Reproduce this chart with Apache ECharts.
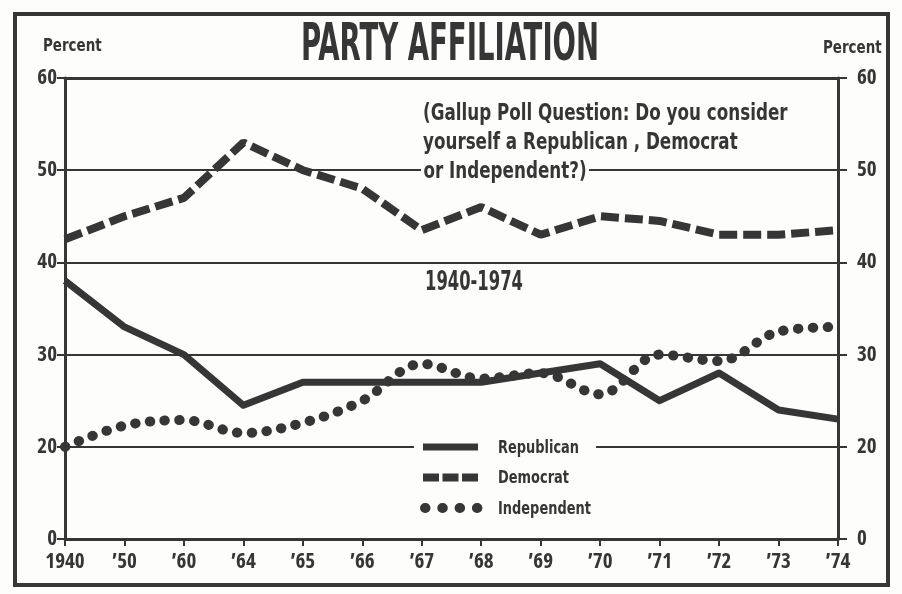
<!DOCTYPE html>
<html>
<head>
<meta charset="utf-8">
<script src="https://cdn.jsdelivr.net/npm/echarts@6/dist/echarts.min.js"></script>
<style>
html,body{margin:0;padding:0;background:#fdfdfb;}
#c{width:902px;height:594px;}
</style>
</head>
<body>
<div id="c"></div>
<script>
// ---- data ----
const categories = ['1940', '\u201950', '\u201960', '\u201964', '\u201965', '\u201966', '\u201967', '\u201968', '\u201969', '\u201970', '\u201971', '\u201972', '\u201973', '\u201974'];
const republican = [38, 33, 30, 24.5, 27, 27, 27, 27, 28, 29, 25, 28, 24, 23];
const democrat = [42.5, 45, 47, 53, 50, 48, 43.5, 46, 43, 45, 44.5, 43, 43, 43.5];
const independent = [20, 22.3, 22.9, 21.5, 22.6, 25, 29, 27.4, 28, 25.7, 30, 29.3, 32.5, 33];
// broken axis: bottom position is labelled 0
const yTickValues = [10, 20, 30, 40, 50, 60];
const yTickLabels = ['0', '20', '30', '40', '50', '60'];
const seriesNames = ['Republican', 'Democrat', 'Independent'];

const INK = '#363636';
const BG = '#fdfdfb';
const FONT = "'DejaVu Sans', sans-serif";
const AXFONT = "'Open Sans', 'DejaVu Sans', sans-serif";
const yFmt = v => { const i = yTickValues.indexOf(v); return i >= 0 ? yTickLabels[i] : ''; };

const chart = echarts.init(document.getElementById('c'));
const axTxt = {fontFamily: AXFONT, fontWeight: 'bold', fontStyle: 'condensed', color: INK, fontSize: 21};

function T(text, x, y, size, sx, extra) {
  return Object.assign({
    type: 'text', x: x, y: y, scaleX: sx, z: 10,
    style: Object.assign({text: text, fontSize: size, verticalAlign: 'middle', fill: INK,
      fontFamily: FONT, fontWeight: 'bold', fontStyle: 'condensed'}, extra || {})
  });
}

const styles = [
  {lineWidth: 7, lineDash: null, lineCap: 'butt'},
  {lineWidth: 8, lineDash: [16, 3.5], lineCap: 'butt'},
  {lineWidth: 10, lineDash: [0.5, 16.8], lineCap: 'round'}
];
const legendGraphics = [];
seriesNames.forEach((n, i) => {
  const y = 447 + i * 30.5;
  legendGraphics.push({type: 'line', z: 12, shape: {x1: i === 2 ? 425 : 423, y1: y, x2: 478, y2: y},
    style: Object.assign({stroke: INK}, styles[i])});
  legendGraphics.push(T(n, 498, y + 1, 18, 0.8, {}));
});

chart.setOption({
  animation: false,
  backgroundColor: BG,
  grid: {left: 65, right: 64, top: 78, bottom: 55},
  xAxis: [{
    type: 'category', data: categories, boundaryGap: false,
    axisLine: {lineStyle: {color: INK, width: 3}},
    axisTick: {show: true, length: 7, lineStyle: {color: INK, width: 2}},
    axisLabel: Object.assign({margin: 13, interval: 0}, axTxt),
    splitLine: {show: false}
  }, {
    type: 'category', data: categories, boundaryGap: false, position: 'top',
    axisLine: {lineStyle: {color: INK, width: 3}},
    axisTick: {show: false}, axisLabel: {show: false}
  }],
  yAxis: [{
    type: 'value', min: 10, max: 60, interval: 10, position: 'left',
    axisLine: {show: true, lineStyle: {color: INK, width: 3}},
    axisTick: {show: true, length: 8, lineStyle: {color: INK, width: 2}},
    axisLabel: Object.assign({margin: 8, formatter: yFmt}, axTxt),
    splitLine: {show: true, lineStyle: {color: INK, width: 2}}
  }, {
    type: 'value', min: 10, max: 60, interval: 10, position: 'right',
    axisLine: {show: true, lineStyle: {color: INK, width: 3}},
    axisTick: {show: true, length: 9, lineStyle: {color: INK, width: 2}},
    axisLabel: Object.assign({margin: 19, formatter: yFmt}, axTxt),
    splitLine: {show: false}
  }],
  graphic: [
    {type: 'rect', z: 0, shape: {x: 15, y: 14, width: 873, height: 571}, style: {fill: 'none', stroke: INK, lineWidth: 4}},
    T('PARTY AFFILIATION', 450, 47, 51, 0.6, {align: 'center'}),
    T('Percent', 43, 46, 18, 0.83),
    T('Percent', 823, 48, 18, 0.83),
    T('(Gallup Poll Question: Do you consider', 423, 114, 23, 0.81),
    T('yourself a Republican , Democrat', 423, 143, 23, 0.81),
    T('or Independent?)', 421, 172, 23, 0.81, {backgroundColor: BG, padding: [0, 3, 0, 3]}),
    T('1940-1974', 425, 283, 26, 0.70),
    {type: 'rect', z: 9, shape: {x: 414, y: 437, width: 182, height: 20}, style: {fill: BG}}
  ].concat(legendGraphics),
  series: [{
    name: seriesNames[0], type: 'line', data: republican, symbol: 'none', z: 3,
    lineStyle: {color: INK, width: 7, join: 'round'}
  }, {
    name: seriesNames[1], type: 'line', data: democrat, symbol: 'none', z: 3,
    lineStyle: {color: INK, width: 8, type: [18, 6], cap: 'butt'}
  }, {
    name: seriesNames[2], type: 'line', data: independent, symbol: 'none', smooth: 0.35, z: 3,
    lineStyle: {color: INK, width: 10, type: [0.5, 14.3], cap: 'round'}
  }]
});
</script>
</body>
</html>
